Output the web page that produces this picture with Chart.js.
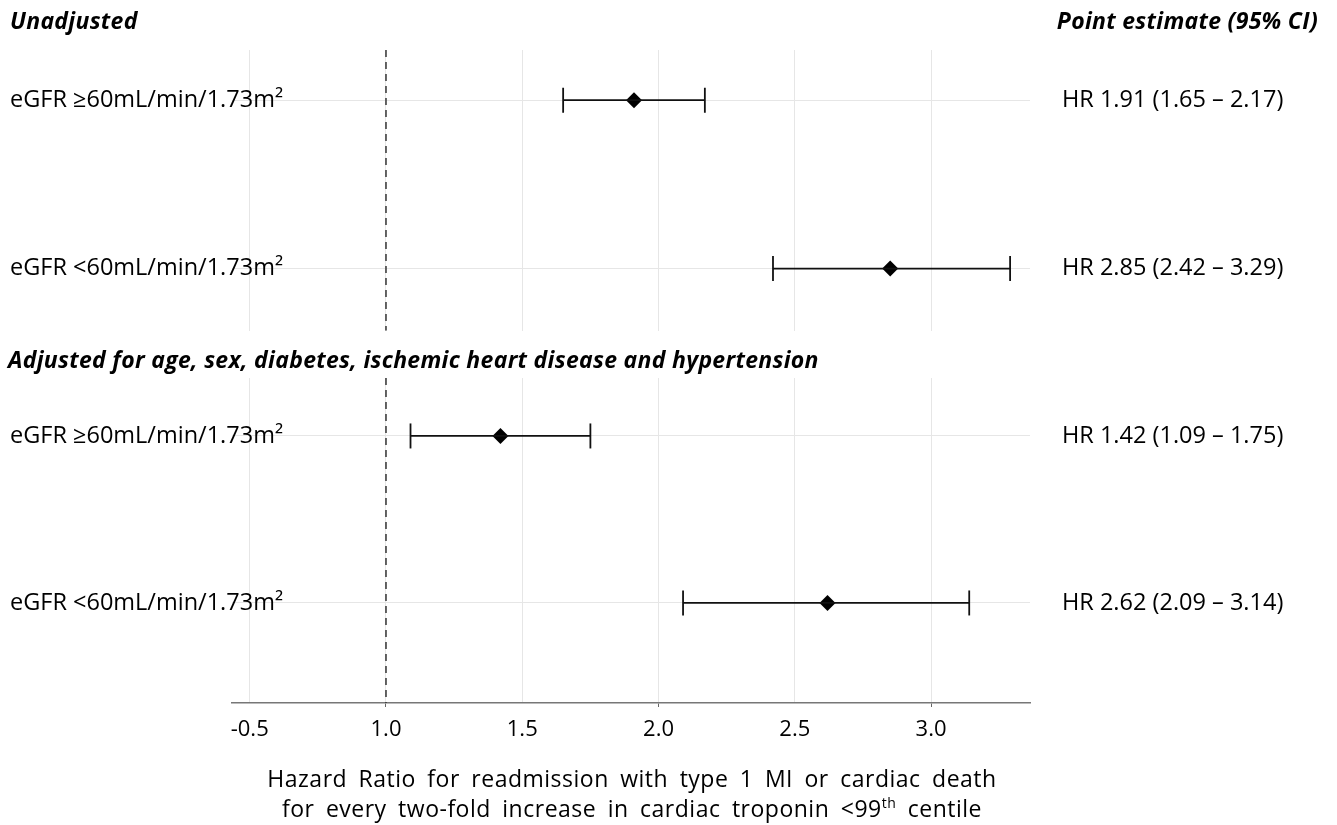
<!DOCTYPE html>
<html>
<head>
<meta charset="utf-8">
<script src="https://cdn.jsdelivr.net/npm/chart.js@4"></script>
<style>
  html, body { margin: 0; padding: 0; background: #fff; }
  body { width: 1337px; height: 825px; position: relative; overflow: hidden; font-family: "Open Sans", sans-serif; color: #000; }
  canvas { position: absolute; left: 0; }
  #top { top: 0; }
  #bottom { top: 340px; }
  .head { position: absolute; font-weight: bold; font-style: italic; font-size: 23px; line-height: 28px; white-space: nowrap; letter-spacing: 0.3px; }
  #xtitle { position: absolute; left: 132px; width: 1000px; top: 763px; text-align: center; font-size: 23px; line-height: 30px; word-spacing: 5px; letter-spacing: 0.5px; }
  sup { font-size: 14px; line-height: 0; }
</style>
</head>
<body>
<canvas id="top" width="1337" height="345"></canvas>
<canvas id="bottom" width="1337" height="485"></canvas>
<div class="head" id="h1" style="left:10px; top:6px;"></div>
<div class="head" id="h2" style="left:8px; top:345px;"></div>
<div class="head" id="hr" style="right:19px; top:6px;">Point estimate (95% CI)</div>
<div id="xtitle">Hazard Ratio for readmission with type 1 MI or cardiac death<br>for every two-fold increase in cardiac troponin &lt;99<sup>th</sup> centile</div>
<script>
const groups = ['Unadjusted', 'Adjusted for age, sex, diabetes, ischemic heart disease and hypertension'];
const rowLabels = ['eGFR ≥60mL/min/1.73m²', 'eGFR <60mL/min/1.73m²'];
const rowPos = [1, 2];

const unadjEst = [1.91, 2.85];
const unadjLo = [1.65, 2.42];
const unadjHi = [2.17, 3.29];

const adjEst = [1.42, 2.62];
const adjLo = [1.09, 2.09];
const adjHi = [1.75, 3.14];

const xTickValues = [0.5, 1.0, 1.5, 2.0, 2.5, 3.0];
const xTickLabels = ['-0.5', '1.0', '1.5', '2.0', '2.5', '3.0'];
const refLine = 1.0;

document.getElementById('h1').textContent = groups[0];
document.getElementById('h2').textContent = groups[1];

const FONT = '"Open Sans", sans-serif';
const GRID = '#e6e6e6';

function hrText(est, lo, hi) {
  return est.map((e, i) => 'HR ' + e.toFixed(2) + ' (' + lo[i].toFixed(2) + ' \u2013 ' + hi[i].toFixed(2) + ')');
}

function makePanel(id, est, lo, hi, yMin, yMax, isBottom, padTop) {
  const datasets = [];
  // dashed reference line at HR = 1
  datasets.push({
    type: 'line',
    data: [{ x: refLine, y: yMin }, { x: refLine, y: yMax }],
    borderColor: '#333',
    borderWidth: 1.5,
    borderDash: [7, 5],
    pointRadius: 0
  });
  // confidence intervals with end caps
  est.forEach((e, i) => {
    datasets.push({
      type: 'line',
      data: [{ x: lo[i], y: rowPos[i] }, { x: hi[i], y: rowPos[i] }],
      borderColor: '#111',
      borderWidth: 1.8,
      pointStyle: 'line',
      rotation: 90,
      pointRadius: 12.5,
      pointBorderWidth: 1.8,
      pointBorderColor: '#111'
    });
  });
  // point estimates
  datasets.push({
    type: 'scatter',
    data: est.map((e, i) => ({ x: e, y: rowPos[i] })),
    pointStyle: 'rectRot',
    pointRadius: 8,
    backgroundColor: '#000',
    borderColor: '#000',
    borderWidth: 0
  });

  const setRowTicks = s => { s.ticks = rowPos.map(v => ({ value: v })); };
  const fitY = w => s => { s.width = w; s.paddingTop = 0; s.paddingBottom = 0; };
  const labels = hrText(est, lo, hi);

  new Chart(document.getElementById(id), {
    type: 'scatter',
    data: { datasets },
    options: {
      responsive: false,
      animation: false,
      events: [],
      layout: { padding: { left: 10, right: 0, top: padTop, bottom: 0 } },
      plugins: { legend: { display: false }, tooltip: { enabled: false } },
      scales: {
        x: {
          type: 'linear',
          min: 0.435,
          max: 3.363,
          afterBuildTicks: s => { s.ticks = xTickValues.map(v => ({ value: v })); },
          afterFit: s => { s.height = isBottom ? 122 : 0; s.paddingLeft = 0; s.paddingRight = 0; },
          grid: {
            color: GRID,
            lineWidth: 1,
            drawTicks: isBottom,
            tickLength: 4,
            tickColor: c => (c.tick && Number.isInteger(c.tick.value)) ? '#666' : 'rgba(0,0,0,0)'
          },
          border: { display: isBottom, color: '#777', width: 1.5 },
          ticks: {
            display: isBottom,
            padding: 10,
            color: '#000',
            font: { family: FONT, size: 22 },
            callback: (v, i) => xTickLabels[i]
          }
        },
        y: {
          type: 'linear',
          position: 'left',
          reverse: true,
          min: yMin,
          max: yMax,
          afterBuildTicks: setRowTicks,
          afterFit: fitY(222),
          grid: { color: GRID, drawTicks: false },
          border: { display: false },
          ticks: {
            mirror: true,
            padding: -222,
            color: '#000',
            font: { family: FONT, size: 23.5 },
            callback: (v, i) => rowLabels[i]
          }
        },
        y2: {
          type: 'linear',
          position: 'right',
          reverse: true,
          min: yMin,
          max: yMax,
          afterBuildTicks: setRowTicks,
          afterFit: fitY(307),
          grid: { display: false, drawTicks: false },
          border: { display: false },
          ticks: {
            crossAlign: 'near',
            padding: 32,
            color: '#000',
            font: { family: FONT, size: 23.5 },
            callback: (v, i) => labels[i]
          }
        }
      }
    }
  });
}

makePanel('top', unadjEst, unadjLo, unadjHi, 0.702, 2.369, false, 50);
makePanel('bottom', adjEst, adjLo, adjHi, 0.653, 2.599, true, 38);
</script>
</body>
</html>
